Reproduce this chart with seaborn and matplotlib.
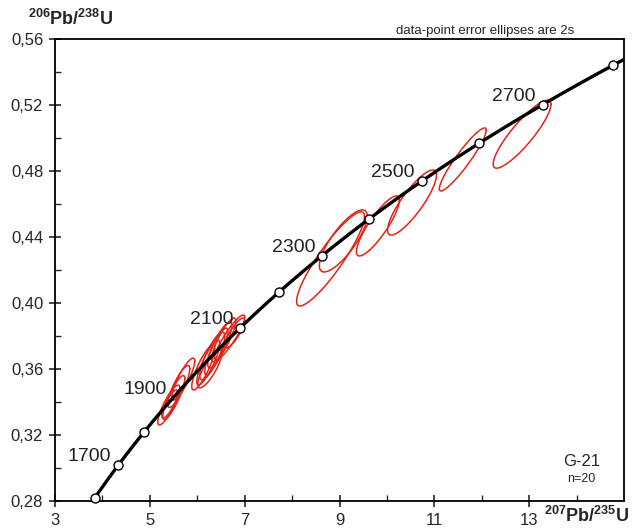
import numpy as np
import pandas as pd
import matplotlib
matplotlib.use("Agg")
import matplotlib.pyplot as plt
import seaborn as sns

# decay constants (1/yr)
lam238 = 1.55125e-10
lam235 = 9.8485e-10

# concordia age markers (Ma) and labelled ages
marker_ages = [1600, 1700, 1800, 2100, 2200, 2300, 2400, 2500, 2600, 2700, 2800]
label_ages = [1700, 1900, 2100, 2300, 2500, 2700]

# error ellipses: centre 207/235, centre 206/238, half-extent x, half-extent y, rho
ell_x = [8.81, 9.08, 9.81, 10.53, 11.60, 12.85,
         5.40, 5.505, 5.61, 5.705, 5.42,
         6.126, 6.232, 6.316, 6.40, 6.474, 6.558, 6.684, 6.789, 6.263]
ell_y = [0.4267, 0.4376, 0.4467, 0.4609, 0.4870, 0.5023,
         0.3382, 0.3427, 0.3494, 0.3539, 0.3388,
         0.3609, 0.3639, 0.3679, 0.3706, 0.3745, 0.3776, 0.3791, 0.3818, 0.3600]
ell_ax = [0.716, 0.505, 0.453, 0.516, 0.495, 0.61,
          0.232, 0.232, 0.232, 0.242, 0.168,
          0.242, 0.242, 0.263, 0.242, 0.253, 0.253, 0.316, 0.211, 0.253]
ell_ay = [0.0285, 0.0188, 0.0182, 0.0197, 0.0191, 0.0206,
          0.0121, 0.0133, 0.0127, 0.0127, 0.0085,
          0.0136, 0.0136, 0.0145, 0.0142, 0.0139, 0.0133, 0.0136, 0.0091, 0.0115]
ell_rho = [0.90, 0.80, 0.86, 0.85, 0.93, 0.88,
           0.85, 0.86, 0.84, 0.86, 0.82,
           0.84, 0.85, 0.82, 0.86, 0.83, 0.86, 0.90, 0.84, 0.82]


def concordia(age_ma):
    t = np.asarray(age_ma, dtype=float) * 1e6
    return np.exp(lam235 * t) - 1, np.exp(lam238 * t) - 1


sns.set_style("ticks")
plt.rcParams['font.family'] = ['Liberation Sans', 'DejaVu Sans']
plt.rcParams['mathtext.fontset'] = 'custom'
plt.rcParams['mathtext.rm'] = 'Liberation Sans'
plt.rcParams['mathtext.bf'] = 'Liberation Sans:bold'

fig = plt.figure(figsize=(6.33, 5.29), dpi=100)
ax = fig.add_axes([0.0869, 0.0529, 0.8989, 0.8734])

# ellipses
tt = np.linspace(0, 2 * np.pi, 200)
for cx, cy, a, b, r in zip(ell_x, ell_y, ell_ax, ell_ay, ell_rho):
    ex = cx + a * np.cos(tt)
    ey = cy + b * (r * np.cos(tt) + np.sqrt(1 - r ** 2) * np.sin(tt))
    ax.plot(ex, ey, color='#e2231a', lw=1.1, zorder=2)

# concordia curve
ages = np.linspace(1500, 2900, 400)
cx_, cy_ = concordia(ages)
curve = pd.DataFrame({'x': cx_, 'y': cy_})
sns.lineplot(data=curve, x='x', y='y', sort=False, estimator=None,
             color='black', lw=2.4, ax=ax, zorder=3)

mx, my = concordia(marker_ages)
sns.scatterplot(x=mx, y=my, s=42, facecolor='white', edgecolor='black',
                linewidth=1.0, ax=ax, zorder=4, clip_on=False)

lx, ly = concordia(label_ages)
for age, x, y in zip(label_ages, lx, ly):
    ax.annotate(str(age), (x, y), xytext=(-5, 6), textcoords='offset points',
                ha='right', va='center', fontsize=14, color='#222222')

ax.set_xlim(3, 15)
ax.set_ylim(0.28, 0.56)
ax.set_xticks([3, 5, 7, 9, 11, 13])
ax.set_xticks([4, 6, 8, 10, 12, 14], minor=True)
ax.set_yticks(np.arange(0.28, 0.5601, 0.04))
ax.set_yticks(np.arange(0.30, 0.56, 0.04), minor=True)
ax.set_yticklabels([f"{v:.2f}".replace('.', ',') for v in np.arange(0.28, 0.5601, 0.04)])
ax.tick_params(which='major', direction='inout', length=9, width=1.2, labelsize=12, pad=4)
ax.tick_params(which='minor', direction='in', length=4, width=1.0)
for s in ax.spines.values():
    s.set_linewidth(1.3)
    s.set_color('black')
ax.set_xlabel('')
ax.set_ylabel('')

fig.text(0.044, 0.965, r'$\mathbf{^{206}Pb/^{238}U}$', fontsize=13, va='center', ha='left')
fig.text(0.994, 0.024, r'$\mathbf{^{207}Pb/^{235}U}$', fontsize=13, va='center', ha='right')
ax.text(0.756, 1.005, 'data-point error ellipses are 2s', transform=ax.transAxes,
        fontsize=9.5, ha='center', va='bottom')
ax.text(0.925, 0.085, 'G-21', transform=ax.transAxes, fontsize=12, ha='center', va='center')
ax.text(0.925, 0.048, 'n=20', transform=ax.transAxes, fontsize=9, ha='center', va='center')

fig.savefig('out.png', dpi=100)
